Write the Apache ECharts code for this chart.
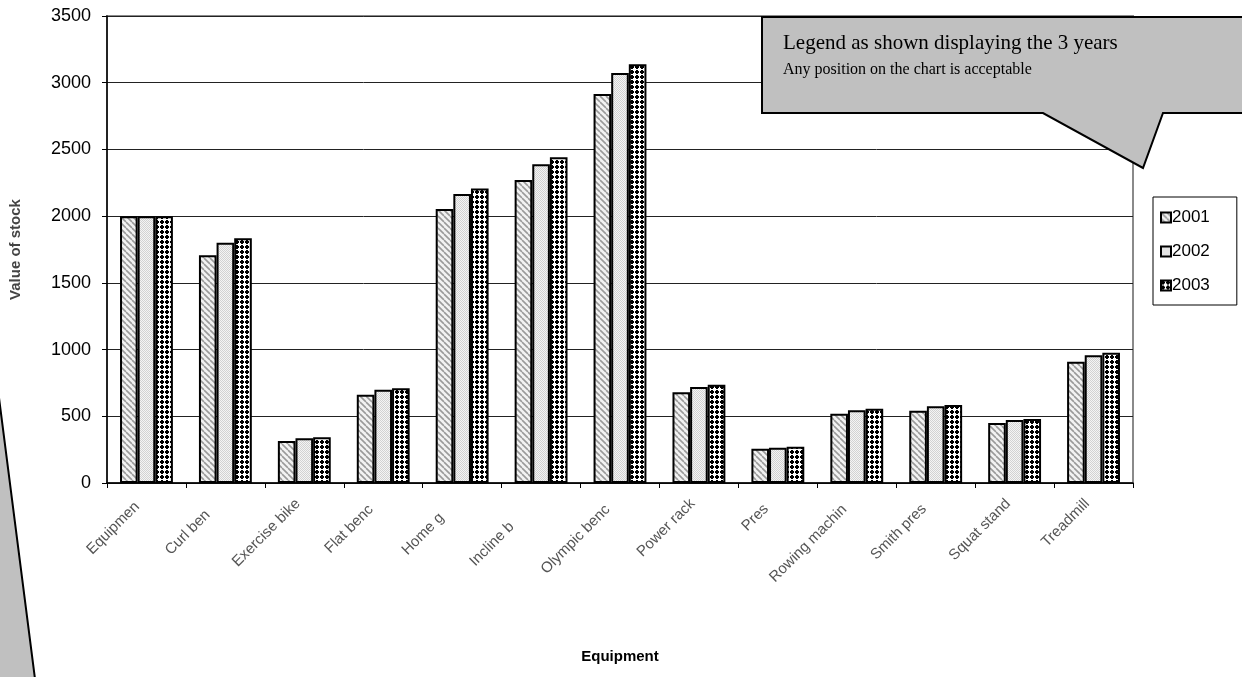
<!DOCTYPE html>
<html>
<head>
<meta charset="utf-8">
<script src="https://cdn.jsdelivr.net/npm/echarts@6/dist/echarts.min.js"></script>
<style>
html,body{margin:0;padding:0;background:#fff;}
#chart{width:1242px;height:677px;}
</style>
</head>
<body>
<div id="chart"></div>
<script>
// ---- data ----
var categories = ['Equipment','Curl bench','Exercise bike','Flat bench','Home gym','Incline bench','Olympic bench','Power rack','Press','Rowing machine','Smith press','Squat stand','Treadmill'];
var tickLabels = ['Equipmen','Curl ben','Exercise bike','Flat benc','Home g','Incline b','Olympic benc','Power rack','Pres','Rowing machin','Smith pres','Squat stand','Treadmill'];
var years = ['2001','2002','2003'];
var values2001 = [2000,1706,315,662,2053,2271,2915,680,257,519,542,450,909];
var values2002 = [2000,1801,335,699,2166,2388,3073,719,265,545,575,472,957];
var values2003 = [2000,1834,342,710,2208,2441,3138,737,272,557,585,480,977];
var yTicks = [0,500,1000,1500,2000,2500,3000,3500];

// ---- patterns ----
function pat2001(){
  var c=document.createElement('canvas');c.width=6;c.height=6;var x=c.getContext('2d');
  x.fillStyle='#f2f2f2';x.fillRect(0,0,6,6);
  x.strokeStyle='#9a9a9a';x.lineWidth=1.6;
  for(var k=-6;k<=12;k+=6){x.beginPath();x.moveTo(k,0);x.lineTo(k+6,6);x.stroke();}
  return c;
}
function pat2002(){
  var c=document.createElement('canvas');c.width=2;c.height=2;var x=c.getContext('2d');
  x.fillStyle='#f4f4f4';x.fillRect(0,0,2,2);
  x.fillStyle='#d2d2d2';x.fillRect(0,0,1,1);x.fillRect(1,1,1,1);
  return c;
}
function pat2003(){
  var c=document.createElement('canvas');c.width=5;c.height=5;var x=c.getContext('2d');
  x.fillStyle='#ffffff';x.fillRect(0,0,5,5);
  x.fillStyle='#000000';
  x.fillRect(1,0,2,4);x.fillRect(0,1,4,2);
  return c;
}
var patterns=[pat2001(),pat2002(),pat2003()];
var seriesValues=[values2001,values2002,values2003];

// ---- label padding to mimic clipped labels ----
var LBL_FONT=15;
var mc=document.createElement('canvas').getContext('2d');
mc.font=LBL_FONT+'px "Liberation Sans"';
var rich={};
tickLabels.forEach(function(t,i){
  var pad=Math.max(0,mc.measureText(categories[i]).width-mc.measureText(t).width)+9;
  rich['t'+i]={fontSize:LBL_FONT,fontFamily:'"Liberation Sans"',color:'#555',padding:[0,pad,0,0]};
});

var chart=echarts.init(document.getElementById('chart'),null,{renderer:'canvas'});
var series=years.map(function(y,i){
  return {
    name:y,type:'bar',data:seriesValues[i],
    barGap:'0%',barCategoryGap:'33%',
    itemStyle:{color:{image:patterns[i],repetition:'repeat'},borderColor:'#000',borderWidth:2},
    emphasis:{disabled:true}
  };
});

chart.setOption({
  animation:false,
  backgroundColor:'#fff',
  textStyle:{fontFamily:'"Liberation Sans"'},
  grid:{left:106,right:109,top:16,bottom:194,show:true,borderColor:'#8a8a8a',borderWidth:2,backgroundColor:'transparent'},
  legend:{
    data:years,orient:'vertical',left:1153,top:197,
    padding:[12,27,11,7],itemGap:17,itemWidth:10,itemHeight:10,icon:'rect',
    borderColor:'#000',borderWidth:1,backgroundColor:'#fff',
    textStyle:{fontSize:17,color:'#000',fontFamily:'"Liberation Sans"',padding:[0,0,0,-4]}
  },
  xAxis:{
    type:'category',data:categories,
    name:'Equipment',nameLocation:'middle',nameGap:166,
    nameTextStyle:{fontSize:15,fontWeight:'bold',color:'#000'},
    axisLine:{lineStyle:{color:'#000',width:1.5}},
    axisTick:{show:true,length:5,lineStyle:{color:'#000'}},
    axisLabel:{rotate:45,margin:12,interval:0,
      formatter:function(v,i){return '{t'+i+'|'+tickLabels[i]+'}';},rich:rich}
  },
  yAxis:{
    type:'value',min:yTicks[0],max:yTicks[yTicks.length-1],interval:500,
    name:'Value of stock',nameLocation:'middle',nameGap:84,
    nameTextStyle:{fontSize:15,fontWeight:'bold',color:'#444'},
    axisLine:{show:true,lineStyle:{color:'#000',width:1.5}},
    axisTick:{show:true,length:5,lineStyle:{color:'#000'}},
    axisLabel:{fontSize:18,color:'#000',margin:16,formatter:function(v){return String(v);}},
    splitLine:{lineStyle:{color:'#222',width:1}}
  },
  series:series,
  graphic:[
    {type:'polygon',z:100,shape:{points:[[762,17],[1244,17],[1244,113],[1163,113],[1143,168],[1043,113],[762,113]]},
     style:{fill:'#c0c0c0',stroke:'#000',lineWidth:2}},
    {type:'text',z:101,left:783,top:33,style:{text:'Legend as shown displaying the 3 years',font:'21px "Liberation Serif"',fill:'#000'}},
    {type:'text',z:101,left:783,top:62,style:{text:'Any position on the chart is acceptable',font:'16px "Liberation Serif"',fill:'#000'}},
    {type:'polygon',z:100,shape:{points:[[-2,390],[35,679],[-2,679]]},
     style:{fill:'#c0c0c0',stroke:'#000',lineWidth:2}}
  ]
});
</script>
</body>
</html>
